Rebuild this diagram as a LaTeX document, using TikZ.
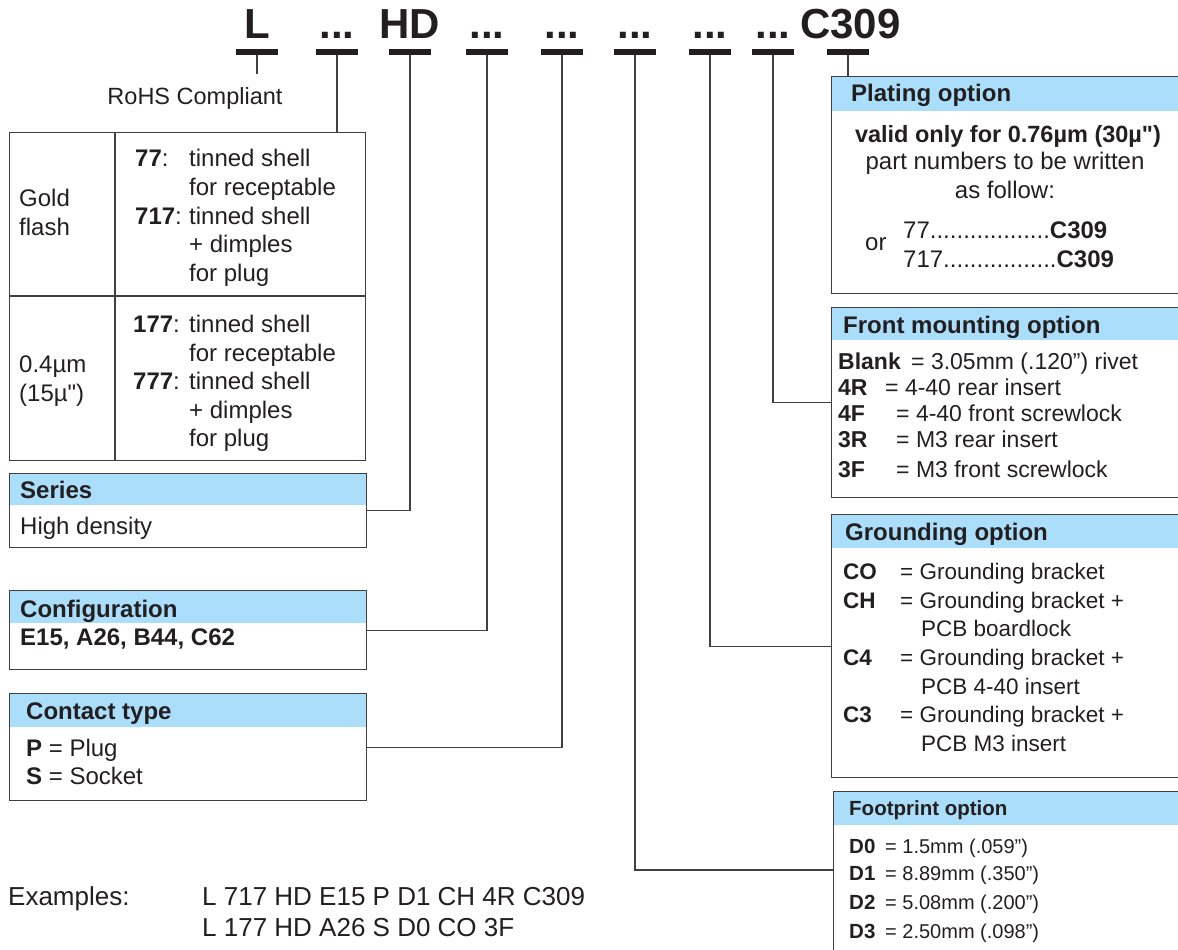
\documentclass[tikz,border=0pt]{standalone}
\usepackage{fontspec}
\setmainfont{Liberation Sans}[Ligatures=TeXOff]
\definecolor{hdr}{RGB}{170,222,250}
\definecolor{ink}{RGB}{35,31,32}
\definecolor{ln}{RGB}{64,64,64}
\newcommand\myfs[1]{\fontsize{#1}{#1}\selectfont}
\begin{document}
\begin{tikzpicture}[x=1pt,y=-1pt,
  every node/.style={inner sep=0pt,text=ink},
  t/.style={anchor=base west,font=\myfs{24}},
  tb/.style={anchor=base west,font=\myfs{24}\bfseries},
  tr/.style={anchor=base west,font=\myfs{23}},
  trb/.style={anchor=base west,font=\myfs{23}\bfseries},
  tg/.style={anchor=base west,font=\myfs{22.5}},
  tgb/.style={anchor=base west,font=\myfs{22.5}\bfseries},
  tf/.style={anchor=base west,font=\myfs{20}},
  tfb/.style={anchor=base west,font=\myfs{20.5}\bfseries},
  ttl/.style={anchor=base,font=\myfs{42}\bfseries},
  bar/.style={fill=ink,minimum width=42pt,minimum height=5.5pt,inner sep=0pt},
  box/.style={draw=ln,line width=1.4pt,anchor=north west,inner sep=0pt},
  conn/.style={draw=ln,line width=1.2pt},
  hfill/.style={fill=hdr}]
\useasboundingbox (0,0) rectangle (1178,950);
\clip (0,0) rectangle (1178,950);

% ---- title
\node[ttl] (tL) at (257,39) {L};
\node[ttl] (t1) at (337,39) {...};
\node[ttl] (tHD) at (410,39) {HD};
\node[ttl] (t2) at (487,39) {...};
\node[ttl] (t3) at (562,39) {...};
\node[ttl] (t4) at (635,39) {...};
\node[ttl] (t5) at (710,39) {...};
\node[ttl] (t6) at (773,39) {...};
\node[anchor=base west,font=\myfs{42}\bfseries] (tC) at (800,39) {C309};
\foreach \n/\x in {bL/257,b1/337,bHD/410,b2/487,b3/562,b4/635,b5/710,b6/773,bC/848}
  \node[bar] (\n) at (\x,52) {};

% ---- RoHS
\coordinate (rohsTop) at (257,74);
\draw[conn] (bL.south) -- (rohsTop);
\node[anchor=base,font=\myfs{23.5}] (rohs) at (195,104) {RoHS Compliant};

% ---- table
\node[box,minimum width=356pt,minimum height=328pt] (tab) at (9,132) {};
\draw[ln,line width=1.4pt] (115,132) -- (115,460);
\draw[ln,line width=1.4pt] (9,296) -- (365,296);
\draw[conn] (b1.south) -- (b1.south |- tab.north);
\node[t] (g1) at (19,206) {Gold};
\node[t] (g2) at (19,235) {flash};
\node[t] (g3) at (19,372) {0.4µm};
\node[t] (g4) at (19,401) {(15µ")};
\node[t] (a1) at (135,166) {\textbf{77}:};
\node[t] (a2) at (189,166) {tinned shell};
\node[t] (a3) at (189,195) {for receptable};
\node[t] (a4) at (135,224) {\textbf{717}:};
\node[t] (a5) at (189,224) {tinned shell};
\node[t] (a6) at (189,252) {+ dimples};
\node[t] (a7) at (189,281) {for plug};
\node[t] (c1) at (133,332) {\textbf{177}:};
\node[t] (c2) at (189,332) {tinned shell};
\node[t] (c3) at (189,361) {for receptable};
\node[t] (c4) at (133,389) {\textbf{777}:};
\node[t] (c5) at (189,389) {tinned shell};
\node[t] (c6) at (189,418) {+ dimples};
\node[t] (c7) at (189,446) {for plug};

% ---- Series
\fill[hfill] (9,473) rectangle (366,505);
\node[box,minimum width=357pt,minimum height=74pt] (ser) at (9,473) {};
\node[tb] (serh) at (20,498) {Series};
\node[t] (sert) at (20,534) {High density};
\draw[conn] (bHD.south) |- (ser.east);

% ---- Configuration
\fill[hfill] (9,590) rectangle (366,623);
\node[box,minimum width=357pt,minimum height=79pt] (cfg) at (9,590) {};
\node[tb] (cfgh) at (20,617) {Configuration};
\node[tb] (cfgt) at (20,645) {E15, A26, B44, C62};
\draw[conn] (b2.south) |- (cfg.east);

% ---- Contact type
\fill[hfill] (9,693) rectangle (366,727);
\node[box,minimum width=357pt,minimum height=107pt] (ct) at (9,693) {};
\node[tb] (cth) at (26,719) {Contact type};
\node[t] (ct1) at (26,756) {\textbf{P} = Plug};
\node[t] (ct2) at (26,784) {\textbf{S} = Socket};
\draw[conn] (b3.south) |- (ct.east);

% ---- Plating option
\fill[hfill] (831,76) rectangle (1240,111);
\node[box,minimum width=409pt,minimum height=217pt] (pl) at (831,76) {};
\draw[conn] (bC.south) -- (bC.south |- pl.north);
\node[tb] (plh) at (851,102) {Plating option};
\node[anchor=base,font=\myfs{23.5}\bfseries] (pl1) at (1008,142) {valid only for 0.76µm (30µ")};
\node[anchor=base,font=\myfs{24}] (pl2) at (1005,169) {part numbers to be written};
\node[anchor=base,font=\myfs{24}] (pl3) at (1005,198) {as follow:};
\node[t] (plor) at (865,250) {or};
\node[t] (pl4) at (903,238) {77..................\textbf{C309}};
\node[t] (pl5) at (903,267) {717.................\textbf{C309}};

% ---- Front mounting option
\fill[hfill] (831,307) rectangle (1240,340);
\node[box,minimum width=409pt,minimum height=190pt] (fm) at (831,307) {};
\node[tb] (fmh) at (843,333) {Front mounting option};
\node[trb] (fm1) at (838,369) {Blank};
\node[tr] (fm1t) at (911,369) {= 3.05mm (.120”) rivet};
\node[trb] (fm2) at (838,395) {4R};
\node[tr] (fm2t) at (885,395) {= 4-40 rear insert};
\node[trb] (fm3) at (838,421) {4F};
\node[tr] (fm3t) at (896,421) {= 4-40 front screwlock};
\node[trb] (fm4) at (838,447) {3R};
\node[tr] (fm4t) at (896,447) {= M3 rear insert};
\node[trb] (fm5) at (838,477) {3F};
\node[tr] (fm5t) at (896,477) {= M3 front screwlock};
\draw[conn] (b6.south) |- (fm.west);

% ---- Grounding option
\fill[hfill] (831,514) rectangle (1240,548);
\node[box,minimum width=409pt,minimum height=263pt] (gr) at (831,514) {};
\node[tb] (grh) at (845,540) {Grounding option};
\node[tgb] (gr1) at (843,579) {CO};
\node[tg] (gr1t) at (900,579) {= Grounding bracket};
\node[tgb] (gr2) at (843,608) {CH};
\node[tg] (gr2t) at (900,608) {= Grounding bracket +};
\node[tg] (gr3t) at (921,636) {PCB boardlock};
\node[tgb] (gr4) at (843,665) {C4};
\node[tg] (gr4t) at (900,665) {= Grounding bracket +};
\node[tg] (gr5t) at (921,694) {PCB 4-40 insert};
\node[tgb] (gr6) at (843,722) {C3};
\node[tg] (gr6t) at (900,722) {= Grounding bracket +};
\node[tg] (gr7t) at (921,751) {PCB M3 insert};
\draw[conn] (b5.south) |- (gr.west);

% ---- Footprint option
\fill[hfill] (833,791) rectangle (1240,825);
\node[box,minimum width=407pt,minimum height=190pt] (fp) at (833,791) {};
\node[tfb] (fph) at (849,815) {Footprint option};
\node[tfb] (fp1) at (849,853) {D0};
\node[tf] (fp1t) at (885,853) {= 1.5mm (.059”)};
\node[tfb] (fp2) at (849,880) {D1};
\node[tf] (fp2t) at (885,880) {= 8.89mm (.350”)};
\node[tfb] (fp3) at (849,909) {D2};
\node[tf] (fp3t) at (885,909) {= 5.08mm (.200”)};
\node[tfb] (fp4) at (849,938) {D3};
\node[tf] (fp4t) at (885,938) {= 2.50mm (.098”)};
\coordinate (fpin) at (833,870);
\draw[conn] (b4.south) |- (fpin);

% ---- Examples
\node[anchor=base west,font=\myfs{26}] (ex) at (8,905) {Examples:};
\node[anchor=base west,font=\myfs{26}] (ex1) at (202,905) {L 717 HD E15 P D1 CH 4R C309};
\node[anchor=base west,font=\myfs{26}] (ex2) at (202,936) {L 177 HD A26 S D0 CO 3F};
\end{tikzpicture}
\end{document}
